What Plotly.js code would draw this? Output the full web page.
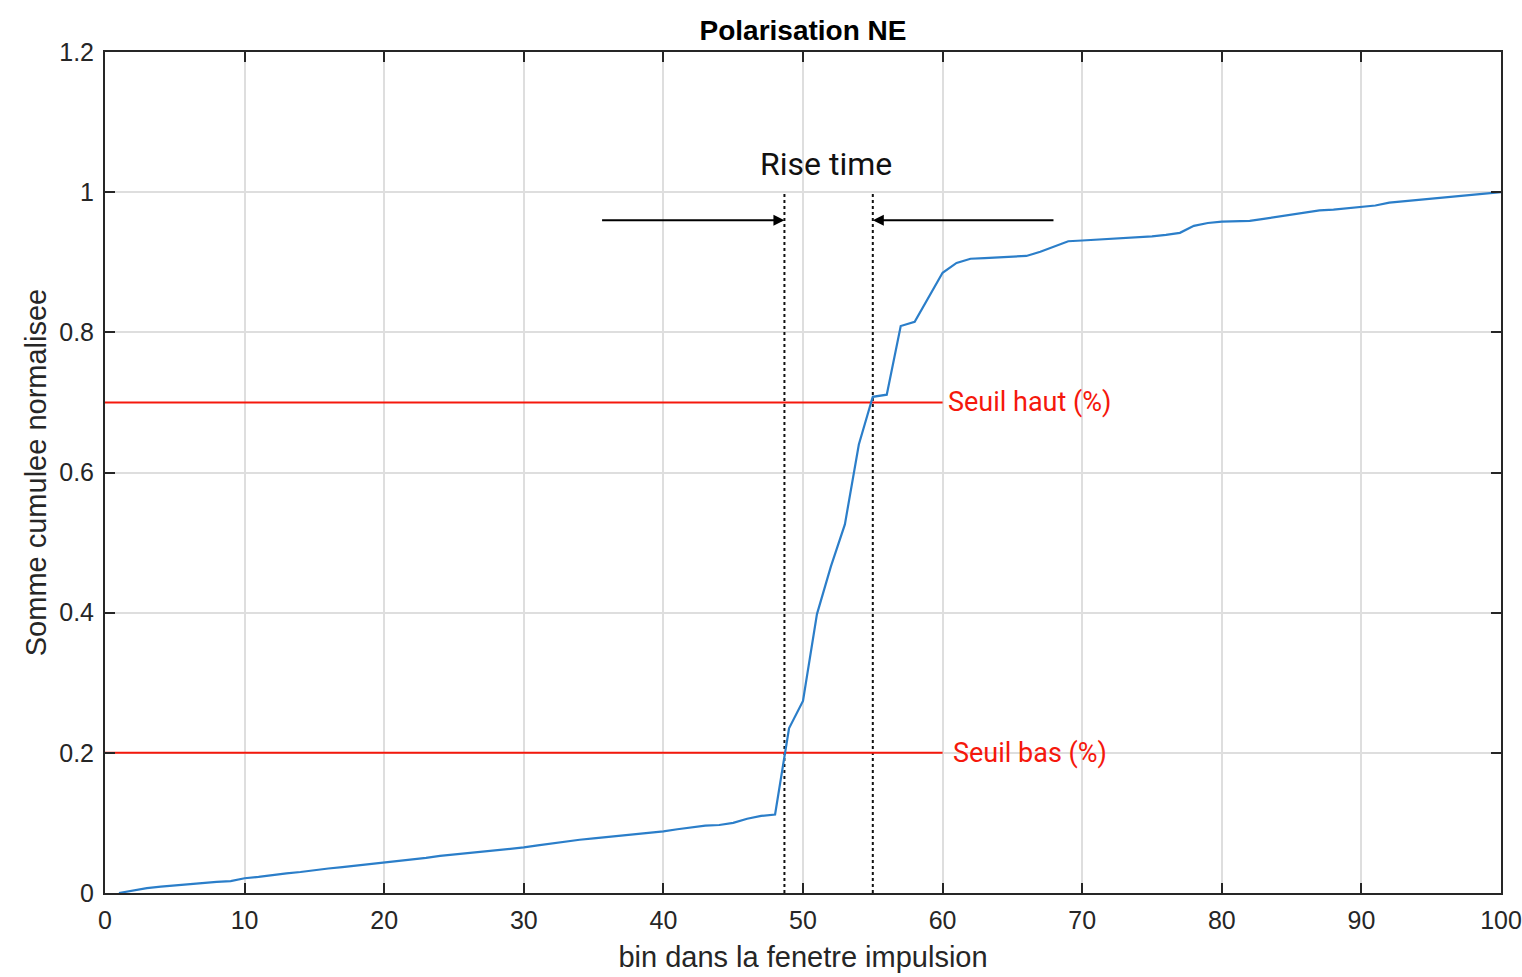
<!DOCTYPE html>
<html>
<head>
<meta charset="utf-8">
<script src="https://cdn.plot.ly/plotly-3.0.1.min.js"></script>
<style>
html,body{margin:0;padding:0;background:#fff;}
#chart{width:1522px;height:977px;}
</style>
</head>
<body>
<div id="chart"></div>
<script>
// ---- data ----
const bins = Array.from({length: 100}, (_, i) => i + 1);
const cumSum = [
  0.000, 0.004, 0.007, 0.009, 0.011, 0.013, 0.014, 0.016, 0.017, 0.021,
  0.023, 0.026, 0.028, 0.030, 0.033, 0.035, 0.037, 0.039, 0.041, 0.043,
  0.045, 0.048, 0.050, 0.053, 0.055, 0.057, 0.058, 0.060, 0.063, 0.065,
  0.068, 0.071, 0.074, 0.076, 0.078, 0.080, 0.082, 0.083, 0.085, 0.088,
  0.091, 0.094, 0.096, 0.097, 0.100, 0.106, 0.110, 0.112, 0.235, 0.274,
  0.398, 0.466, 0.526, 0.640, 0.708, 0.711, 0.809, 0.815, 0.850, 0.885,
  0.899, 0.905, 0.906, 0.907, 0.907, 0.909, 0.915, 0.922, 0.930, 0.931,
  0.932, 0.933, 0.934, 0.936, 0.937, 0.939, 0.942, 0.952, 0.956, 0.958,
  0.958, 0.959, 0.962, 0.965, 0.968, 0.971, 0.974, 0.975, 0.977, 0.979,
  0.981, 0.985, 0.987, 0.989, 0.991, 0.993, 0.995, 0.997, 0.998, 1.000
];
const thresholdValues = [0.2, 0.7];
const thresholdLabels = ["Seuil bas (%)", "Seuil haut (%)"];
const thresholdLineEnd = [60, 60];
const riseBounds = [48.67, 55.0];
const riseLabel = "Rise time";
const arrowTails = [35.5, 68.05];
const arrowLevel = 0.96;
const xTicks = [0, 10, 20, 30, 40, 50, 60, 70, 80, 90, 100];
const yTicks = [0, 0.2, 0.4, 0.6, 0.8, 1, 1.2];
const yTickLabels = ["0", "0.2", "0.4", "0.6", "0.8", "1", "1.2"];

// ---- styling ----
const axisColor = "#262626";
const gridColor = "#dedede";
const red = "#f5180c";
const baseFont = "Liberation Sans, Arial, Helvetica, sans-serif";
const annFont = "Roboto, Noto Sans, sans-serif";

const traces = [];
riseBounds.forEach(xb => {
  traces.push({
    x: [xb, xb], y: [0, 1], mode: "lines", type: "scatter",
    line: {color: "#111", width: 2, dash: "dot"}, hoverinfo: "skip", showlegend: false
  });
});
thresholdValues.forEach((t, i) => {
  traces.push({
    x: [0, thresholdLineEnd[i]], y: [t, t], mode: "lines", type: "scatter",
    line: {color: red, width: 2}, hoverinfo: "skip", showlegend: false
  });
});
traces.push({
  x: bins, y: cumSum, mode: "lines", type: "scatter",
  line: {color: "#2b7ec9", width: 2.2}, showlegend: false
});

const annotations = [];
thresholdValues.forEach((t, i) => {
  annotations.push({
    x: i === 0 ? 60.6 : 60.25, y: t, xref: "x", yref: "y",
    text: thresholdLabels[i], showarrow: false, xanchor: "left", yanchor: "middle",
    font: {family: annFont, size: 27, color: red}
  });
});
annotations.push({
  x: (riseBounds[0] + riseBounds[1]) / 2 - 0.2, y: 1.04, xref: "x", yref: "y",
  text: riseLabel, showarrow: false, xanchor: "center", yanchor: "middle",
  font: {family: annFont, size: 32, color: "#111"}
});
riseBounds.forEach((xb, i) => {
  annotations.push({
    x: xb, y: arrowLevel, xref: "x", yref: "y",
    ax: arrowTails[i], ay: arrowLevel, axref: "x", ayref: "y",
    text: "", showarrow: true, arrowhead: 2, arrowsize: 1.1, arrowwidth: 2,
    arrowcolor: "#000", standoff: 0
  });
});

const layout = {
  width: 1522, height: 977,
  margin: {l: 105, r: 21, t: 52, b: 84},
  paper_bgcolor: "#fff", plot_bgcolor: "#fff",
  font: {family: baseFont, color: axisColor, size: 25},
  title: {
    text: "<b>Polarisation NE</b>", x: 0.5, xref: "paper", xanchor: "center",
    y: 1 - 30 / 977, yref: "container", yanchor: "middle",
    font: {family: baseFont, size: 28, color: "#000"}
  },
  xaxis: {
    range: [0, 100], tickvals: xTicks, ticktext: xTicks.map(String),
    showgrid: true, gridcolor: gridColor, gridwidth: 2, zeroline: false,
    showline: true, linecolor: axisColor, linewidth: 2, mirror: "ticks",
    ticks: "inside", ticklen: 10, tickwidth: 2, tickcolor: axisColor,
    tickfont: {size: 25, color: axisColor}, ticklabelstandoff: 4,
    title: {text: "bin dans la fenetre impulsion", font: {size: 29, color: axisColor}, standoff: 14},
    automargin: false
  },
  yaxis: {
    range: [0, 1.2], tickvals: yTicks, ticktext: yTickLabels,
    showgrid: true, gridcolor: gridColor, gridwidth: 2, zeroline: false,
    showline: true, linecolor: axisColor, linewidth: 2, mirror: "ticks",
    ticks: "inside", ticklen: 10, tickwidth: 2, tickcolor: axisColor,
    tickfont: {size: 25, color: axisColor}, ticklabelstandoff: 4,
    title: {text: "Somme cumulee normalisee", font: {size: 29, color: axisColor}, standoff: 4},
    automargin: false
  },
  annotations: annotations,
  showlegend: false
};

Plotly.newPlot("chart", traces, layout, {displayModeBar: false, staticPlot: true});
</script>
</body>
</html>
